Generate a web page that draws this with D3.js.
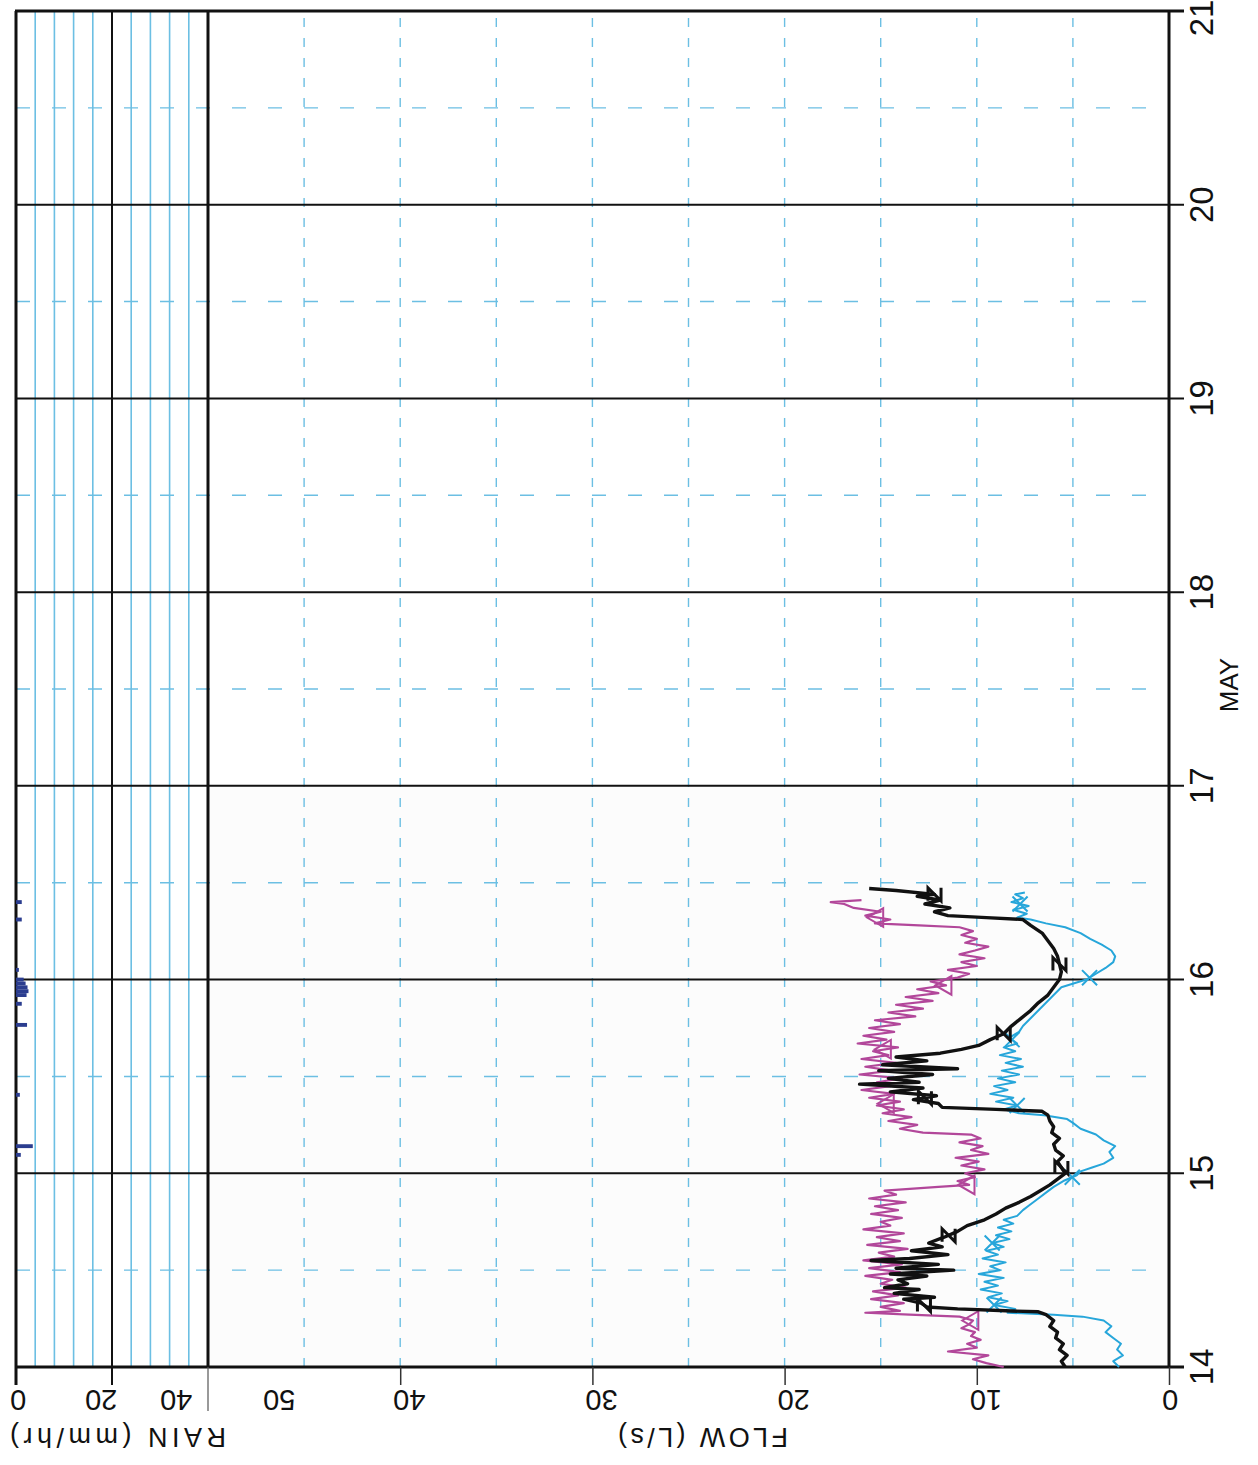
<!DOCTYPE html>
<html lang="en">
<head>
<meta charset="utf-8">
<title>Flow and rain - May</title>
<script src="https://cdnjs.cloudflare.com/ajax/libs/d3/7.8.5/d3.min.js"></script>
<style>
body { margin: 0; background: #fff; }
svg text { font-family: "Liberation Sans", Arial, sans-serif; fill: #111; }
</style>
</head>
<body>
<script>
// ---- data (time in days of May, flow in L/s, rain in mm/hr) ----
var days = [14, 15, 16, 17, 18, 19, 20, 21];
var flowTicks = [0, 10, 20, 30, 40, 50];
var rainTicks = [0, 20, 40];

var timeA = [14.00,14.03,14.06,14.09,14.12,14.15,14.18,14.21,14.24,14.27,14.285,14.29,14.30,14.31,14.33,14.35,14.36,14.38,14.40,14.41,14.43,14.45,14.47,14.48,14.50,14.51,14.53,14.55,14.56,14.58,14.60,14.62,14.64,14.67,14.70,14.73,14.76,14.79,14.82,14.85,14.88,14.91,14.94,14.97,15.00,15.03,15.06,15.09,15.12,15.15,15.18,15.21,15.24,15.27,15.30,15.32,15.33,15.34,15.36,15.38,15.40,15.42,15.44,15.46,15.47,15.49,15.51,15.53,15.54,15.56,15.58,15.60,15.62,15.64,15.66,15.69,15.72,15.76,15.80,15.84,15.88,15.92,15.96,16.00,16.04,16.08,16.12,16.16,16.20,16.24,16.28,16.31,16.32,16.33,16.35,16.37,16.39,16.41,16.43,16.44,16.46,16.47];
var flowA = [5.4,5.6,5.3,5.7,5.5,5.9,5.8,6.2,6.0,6.4,6.8,8.5,11.0,12.6,12.9,13.8,12.2,14.3,13.0,14.8,13.6,14.1,12.6,14.5,11.2,14.2,12.0,15.5,13.5,11.5,13.4,11.8,12.5,11.7,11.0,10.5,9.6,9.0,8.5,7.8,7.2,6.7,6.2,5.8,5.4,5.6,5.8,5.5,5.9,6.0,5.7,6.1,6.0,6.2,6.3,6.6,9.0,11.8,12.0,13.3,12.1,14.5,12.8,16.1,13.0,14.6,12.3,15.1,11.0,14.9,12.6,14.2,11.9,10.8,9.9,9.3,8.6,8.2,7.7,7.2,6.8,6.3,6.0,5.7,5.6,5.7,5.8,6.0,6.3,6.6,7.2,7.6,9.5,11.5,12.2,11.4,12.7,11.9,13.1,12.2,14.2,15.6];

var timeB = [14.00,14.02,14.04,14.06,14.08,14.10,14.12,14.14,14.16,14.18,14.20,14.22,14.24,14.26,14.27,14.28,14.29,14.31,14.33,14.35,14.37,14.39,14.41,14.43,14.45,14.47,14.49,14.51,14.53,14.55,14.57,14.59,14.61,14.63,14.65,14.67,14.69,14.71,14.73,14.75,14.77,14.79,14.81,14.83,14.85,14.87,14.89,14.91,14.93,14.94,14.96,14.98,15.00,15.02,15.04,15.06,15.08,15.10,15.12,15.14,15.16,15.18,15.20,15.21,15.23,15.25,15.27,15.29,15.31,15.33,15.35,15.37,15.39,15.41,15.43,15.45,15.47,15.49,15.51,15.53,15.55,15.57,15.59,15.61,15.63,15.65,15.67,15.69,15.71,15.73,15.75,15.77,15.79,15.81,15.83,15.85,15.87,15.89,15.91,15.93,15.95,15.97,15.99,16.01,16.03,16.05,16.07,16.09,16.11,16.13,16.15,16.17,16.19,16.21,16.23,16.25,16.27,16.28,16.29,16.31,16.33,16.35,16.37,16.39,16.40,16.41];
var flowB = [8.6,9.5,10.2,9.4,11.5,10.0,10.5,9.8,10.3,10.1,10.8,10.4,10.2,10.9,13.5,15.8,14.0,15.0,13.8,15.5,14.1,15.4,13.7,15.0,14.4,15.8,14.0,15.6,13.9,15.9,14.3,15.1,13.6,15.7,14.0,15.2,13.8,15.9,14.5,15.0,13.9,15.5,14.1,15.3,13.7,15.6,14.2,14.8,12.0,10.4,11.0,10.1,10.6,9.6,10.8,9.9,11.1,9.4,10.3,9.7,10.9,9.8,10.3,12.8,14.0,13.1,14.6,13.4,14.9,13.8,15.2,14.0,15.6,14.3,16.0,14.5,15.2,13.9,16.1,14.4,15.8,14.2,16.0,14.6,15.4,14.1,16.2,14.7,15.9,14.3,15.6,14.0,15.3,13.2,14.6,12.8,14.2,12.3,13.7,12.0,13.1,11.6,12.4,11.0,10.4,11.5,10.0,10.8,9.6,10.9,10.1,9.4,10.6,10.0,10.8,10.2,10.9,13.0,15.3,14.5,15.8,15.0,16.4,16.9,17.6,16.0];

var timeC = [14.00,14.03,14.06,14.09,14.12,14.15,14.18,14.21,14.24,14.26,14.27,14.28,14.30,14.32,14.34,14.36,14.38,14.40,14.42,14.44,14.46,14.48,14.50,14.52,14.54,14.56,14.58,14.60,14.62,14.64,14.66,14.68,14.70,14.72,14.74,14.76,14.78,14.81,14.84,14.87,14.90,14.93,14.96,14.99,15.01,15.03,15.05,15.08,15.11,15.14,15.17,15.20,15.23,15.26,15.28,15.30,15.31,15.33,15.35,15.37,15.39,15.41,15.43,15.45,15.47,15.49,15.51,15.53,15.55,15.57,15.59,15.61,15.63,15.65,15.67,15.70,15.73,15.76,15.80,15.84,15.88,15.92,15.96,16.00,16.03,16.06,16.09,16.12,16.15,16.18,16.21,16.24,16.27,16.29,16.31,16.32,16.34,16.36,16.38,16.40,16.42,16.44,16.45];
var flowC = [2.6,2.9,2.4,2.7,2.5,2.9,3.3,3.0,3.4,4.5,6.0,8.4,8.0,9.1,8.4,9.4,8.7,9.8,8.9,9.6,8.6,9.9,8.8,9.3,8.5,9.7,8.9,9.5,8.6,9.2,8.3,9.0,8.2,8.9,8.1,8.6,7.9,7.6,7.2,6.8,6.4,6.0,5.5,4.8,4.6,4.0,3.4,2.9,3.1,2.8,3.4,3.8,4.6,5.0,5.3,6.5,7.8,8.6,7.9,9.0,8.1,9.3,8.4,9.1,8.0,8.9,7.8,8.7,7.6,8.5,7.7,8.8,8.0,8.6,7.9,8.3,7.8,7.6,7.2,6.8,6.4,6.0,5.6,4.3,3.8,3.3,2.9,2.8,3.0,3.5,4.1,4.6,5.4,6.4,7.2,7.9,7.4,8.1,7.3,8.2,7.6,8.0,7.5];

var markTimesA = [14.32, 14.68, 15.03, 15.39, 15.72, 16.08, 16.44];
var markTimesB = [14.24, 14.94, 15.36, 15.64, 15.97, 16.32];
var markTimesC = [14.32, 14.64, 14.98, 15.35, 15.69, 16.01, 16.39];

var rainTime  = [15.085, 15.13, 15.395, 15.756, 15.865, 15.91, 15.93, 15.95, 15.97, 15.99, 16.04, 16.30, 16.39];
var rainValue = [1.0, 3.5, 0.8, 2.3, 1.2, 2.2, 2.6, 2.4, 2.0, 1.6, 0.6, 1.2, 1.2];

// ---- layout ----
var w = 1258, h = 1465;
var gridBlue = "#6cbfe3";

var svg = d3.select("body").append("svg")
    .attr("width", w)
    .attr("height", h);

var y = d3.scaleLinear().domain([14, 21]).range([1367, 11]);
var xFlow = d3.scaleLinear().domain([0, 50]).range([1169, 208]);
var xRain = d3.scaleLinear().domain([0, 40]).range([16, 208]);

// faint shading where data was logged
svg.append("rect")
    .attr("x", xFlow(50)).attr("y", y(17))
    .attr("width", xFlow(0) - xFlow(50))
    .attr("height", y(14) - y(17))
    .attr("fill", "#fcfcfc");

// rain grid: solid light blue every 4 mm/hr
svg.append("g").selectAll("line")
    .data(d3.range(4, 40, 4).filter(function(d) { return d != 20; }))
    .enter().append("line")
    .attr("x1", function(d) { return xRain(d); })
    .attr("x2", function(d) { return xRain(d); })
    .attr("y1", y(14)).attr("y2", y(21))
    .attr("stroke", gridBlue).attr("stroke-width", 1.6);

// flow grid: dashed every 5 L/s
svg.append("g").selectAll("line")
    .data(d3.range(5, 50, 5))
    .enter().append("line")
    .attr("x1", function(d) { return xFlow(d); })
    .attr("x2", function(d) { return xFlow(d); })
    .attr("y1", y(14)).attr("y2", y(21))
    .attr("stroke", gridBlue).attr("stroke-width", 1.4)
    .attr("stroke-dasharray", "9,11");

// half-day dashed lines
svg.append("g").selectAll("line")
    .data(d3.range(14.5, 21, 1))
    .enter().append("line")
    .attr("x1", xRain(0)).attr("x2", xFlow(0))
    .attr("y1", function(d) { return y(d); })
    .attr("y2", function(d) { return y(d); })
    .attr("stroke", gridBlue).attr("stroke-width", 1.4)
    .attr("stroke-dasharray", "14,22");

// day lines (with tick past the flow axis)
svg.append("g").selectAll("line")
    .data(days)
    .enter().append("line")
    .attr("x1", xRain(0) - 1).attr("x2", xFlow(0) + 15)
    .attr("y1", function(d) { return y(d); })
    .attr("y2", function(d) { return y(d); })
    .attr("stroke", "#111")
    .attr("stroke-width", function(d) { return (d == 14 || d == 21) ? 3 : 2; });

// vertical frame lines
var frame = svg.append("g").attr("stroke", "#111");
frame.append("line").attr("x1", xRain(0)).attr("x2", xRain(0))
    .attr("y1", y(21)).attr("y2", y(14) + 18).attr("stroke-width", 3);
frame.append("line").attr("x1", xRain(20)).attr("x2", xRain(20))
    .attr("y1", y(21)).attr("y2", y(14) + 18).attr("stroke-width", 2);
frame.append("line").attr("x1", xRain(40)).attr("x2", xRain(40))
    .attr("y1", y(21)).attr("y2", y(14)).attr("stroke-width", 3);
frame.append("line").attr("x1", xRain(40)).attr("x2", xRain(40))
    .attr("y1", y(14)).attr("y2", y(14) + 44).attr("stroke-width", 1.2).attr("stroke", "#555");
frame.append("line").attr("x1", xFlow(0)).attr("x2", xFlow(0))
    .attr("y1", y(21)).attr("y2", y(14)).attr("stroke-width", 3);

// flow axis ticks
var flowAxis = d3.axisBottom(xFlow)
    .tickValues([0, 10, 20, 30, 40])
    .tickSize(18)
    .tickFormat("");
svg.append("g")
    .attr("transform", "translate(0," + y(14) + ")")
    .call(flowAxis)
    .call(function(g) { g.select(".domain").remove(); })
    .selectAll("line").attr("stroke", "#333").attr("stroke-width", 1.5);

// rain bars
svg.append("g").selectAll("rect")
    .data(d3.zip(rainTime, rainValue))
    .enter().append("rect")
    .attr("x", xRain(0))
    .attr("y", function(d) { return y(d[0] + 0.02); })
    .attr("width", function(d) { return xRain(d[1]) - xRain(0); })
    .attr("height", function(d) { return y(d[0]) - y(d[0] + 0.02); })
    .attr("fill", "#2b3d8f");

// flow series
var line = d3.line()
    .x(function(d) { return xFlow(d[1]); })
    .y(function(d) { return y(d[0]); });

var series = [
    {t: timeB, v: flowB, marks: markTimesB, color: "#b2479a", width: 2.2, sym: "tri"},
    {t: timeC, v: flowC, marks: markTimesC, color: "#27a6da", width: 2, sym: "x"},
    {t: timeA, v: flowA, marks: markTimesA, color: "#111", width: 3.4, sym: "z"}
];

function valueAt(ts, vs, t) {
    var i = d3.bisectLeft(ts, t);
    if (i <= 0) return vs[0];
    if (i >= ts.length) return vs[vs.length - 1];
    return vs[i - 1] + (vs[i] - vs[i - 1]) * (t - ts[i - 1]) / (ts[i] - ts[i - 1]);
}

var symZ = {
    draw: function(ctx, size) {
        var s = Math.sqrt(size) / 2;
        ctx.moveTo(-s, -s); ctx.lineTo(s, -s);
        ctx.lineTo(-s, s); ctx.lineTo(s, s);
    }
};

series.forEach(function(s) {
    svg.append("path")
        .datum(d3.zip(s.t, s.v))
        .attr("fill", "none")
        .attr("stroke", s.color)
        .attr("stroke-width", s.width)
        .attr("stroke-linejoin", "round")
        .attr("d", line);

    var type = s.sym == "tri" ? d3.symbolTriangle : (s.sym == "x" ? (d3.symbolTimes || d3.symbolCross) : symZ);
    svg.append("g").selectAll("path")
        .data(s.marks)
        .enter().append("path")
        .attr("transform", function(t) {
            return "translate(" + xFlow(valueAt(s.t, s.v, t)) + "," + y(t) + ")rotate(" + (s.sym == "tri" ? -90 : 90) + ")";
        })
        .attr("d", d3.symbol().type(type).size(s.sym == "z" ? 170 : 150))
        .attr("fill", "none")
        .attr("stroke", s.color)
        .attr("stroke-width", s.sym == "z" ? 3 : 2);
});

// ---- text (the sheet is printed sideways) ----
var flowLabelX = function(d) { return d == 50 ? xFlow(d) + 55 : xFlow(d) - 7; };
svg.append("g").selectAll("text")
    .data(flowTicks)
    .enter().append("text")
    .attr("transform", function(d) { return "translate(" + flowLabelX(d) + ",1400)rotate(180)"; })
    .attr("text-anchor", "end")
    .attr("dominant-baseline", "central")
    .style("font-size", "29px")
    .text(function(d) { return d; });

svg.append("g").selectAll("text")
    .data(rainTicks)
    .enter().append("text")
    .attr("transform", function(d) { return "translate(" + (xRain(d) - 6 - 1.05 * d) + ",1400)rotate(180)"; })
    .attr("text-anchor", "end")
    .attr("dominant-baseline", "central")
    .style("font-size", "29px")
    .text(function(d) { return d; });

svg.append("text")
    .attr("transform", "translate(118,1437)rotate(180)")
    .attr("text-anchor", "middle")
    .attr("dominant-baseline", "central")
    .attr("textLength", 216)
    .attr("lengthAdjust", "spacing")
    .style("font-size", "27px")
    .text("RAIN (mm/hr)");

svg.append("text")
    .attr("transform", "translate(703,1437)rotate(180)")
    .attr("text-anchor", "middle")
    .attr("dominant-baseline", "central")
    .attr("textLength", 170)
    .attr("lengthAdjust", "spacing")
    .style("font-size", "27px")
    .text("FLOW (L/s)");

svg.append("g").selectAll("text")
    .data(days)
    .enter().append("text")
    .attr("transform", function(d) { return "translate(1201," + Math.max(y(d), 18) + ")rotate(-90)"; })
    .attr("text-anchor", "middle")
    .attr("dominant-baseline", "central")
    .style("font-size", "33px")
    .text(function(d) { return d; });

svg.append("text")
    .attr("transform", "translate(1229,685)rotate(-90)")
    .attr("text-anchor", "middle")
    .attr("dominant-baseline", "central")
    .style("font-size", "26px")
    .text("MAY");
</script>
</body>
</html>
